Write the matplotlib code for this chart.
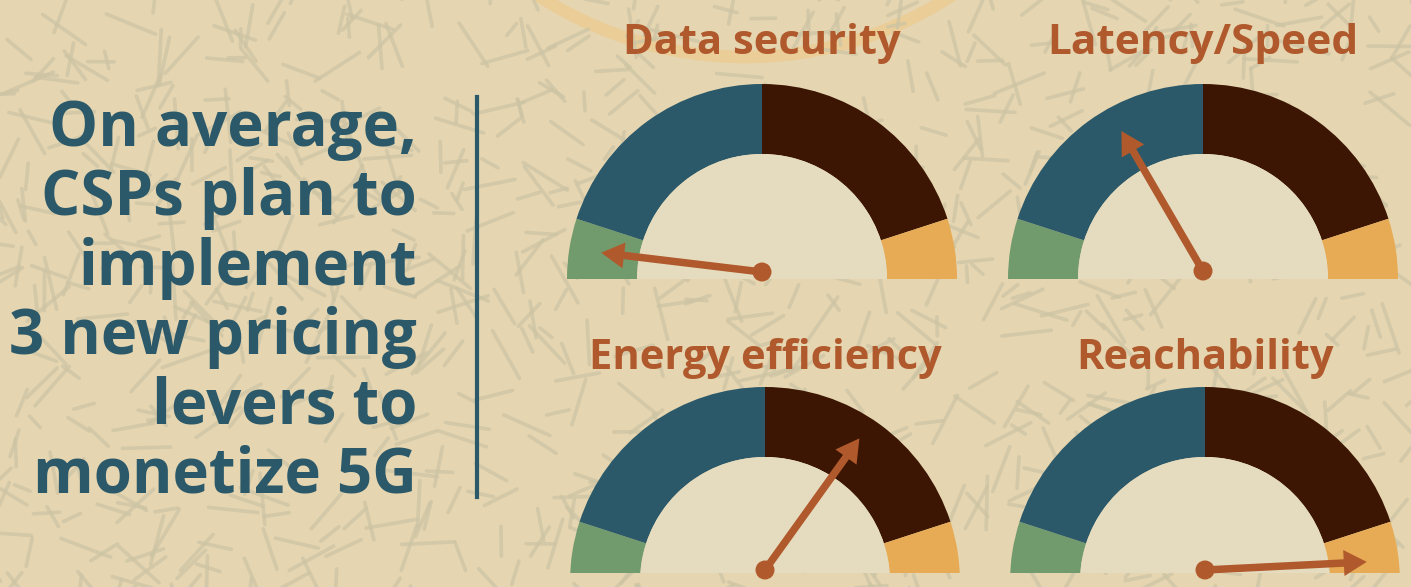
import numpy as np
import matplotlib
matplotlib.use("Agg")
import matplotlib.pyplot as plt
from matplotlib.patches import Wedge, Circle, Rectangle

# text
headline_lines = ["On average,", "CSPs plan to", "implement", "3 new pricing", "levers to", "monetize 5G"]
gauge_titles = ["Data security", "Latency/Speed", "Energy efficiency", "Reachability"]

# needle position on each dial, 0 = far left, 100 = far right
needle_values = [3.8, 33.2, 69.8, 98.4]

# dial bands (percent of the half circle, left to right)
band_edges = [0, 10, 50, 90, 100]
band_colors = ["#729b6d", "#2b5969", "#3c1603", "#e7ab55"]

bg = "#e5d5b0"
face = "#e5dcbf"
teal = "#2b5969"
rust = "#b0592d"

fig = plt.figure(figsize=(14.11, 5.87), dpi=100)
fig.patch.set_facecolor(bg)
ax = fig.add_axes([0, 0, 1, 1])
ax.set_xlim(0, 1411)
ax.set_ylim(587, 0)
ax.axis("off")

# faint orange ring at the top
ax.add_patch(Circle((745, -322), 379, fill=False, lw=9, ec="#ebcd98", zorder=1))

# scribble texture in the background
rng = np.random.default_rng(7)
n = 950
sx = rng.uniform(-30, 1440, n)
sy = rng.uniform(-30, 610, n)
ang = rng.uniform(0, np.pi, n)
ln = rng.uniform(15, 55, n)
for x, y, a, l in zip(sx, sy, ang, ln):
    ax.plot([x, x + l * np.cos(a)], [y, y + l * np.sin(a)], color="#cdc4a4",
            lw=2.6, alpha=0.75, solid_capstyle="round", zorder=2)

# headline on the left
for i, line in enumerate(headline_lines):
    ax.text(417, 146 + 69.3 * i, line, ha="right", va="baseline", fontsize=44.5,
            fontweight="bold", family=["Open Sans", "DejaVu Sans"], color=teal, zorder=5)
ax.plot([477, 477], [97, 497], color=teal, lw=3, zorder=5)

# dials
centers = [(762, 279), (1203, 279), (765, 582), (1205, 582)]
pivots = [(762, 272), (1203, 271), (765, 570), (1205, 570)]
title_y = [54, 54, 369, 369]
title_size = [30, 30.5, 30, 30]
cut_y = [280, 280, 573, 573]
r_out, r_in = 195, 125

for k in range(4):
    cx, cy = centers[k]
    clip = Rectangle((cx - 250, 0), 500, cut_y[k], transform=ax.transData)
    for j in range(4):
        a1 = 180 - band_edges[j] * 1.8
        a2 = 180 - band_edges[j + 1] * 1.8
        w = Wedge((cx, cy), r_out, -a1, -a2, width=r_out - r_in, fc=band_colors[j],
                  ec="none", zorder=3)
        ax.add_patch(w)
        w.set_clip_path(clip)
    f = Wedge((cx, cy), r_in, 180, 360, fc=face, ec="none", zorder=3)
    ax.add_patch(f)
    f.set_clip_path(clip)

    px, py = pivots[k]
    a = np.radians(180 - needle_values[k] * 1.8)
    L = 162
    ax.arrow(px, py, L * np.cos(a), -L * np.sin(a), width=7.5, head_width=26,
             head_length=23, length_includes_head=True, fc=rust, ec="none", zorder=4)
    ax.add_patch(Circle((px, py), 9.5, fc=rust, ec="none", zorder=4))

    ax.text(cx, title_y[k], gauge_titles[k], ha="center", va="baseline",
            fontsize=title_size[k], fontweight="bold", family=["Open Sans", "DejaVu Sans"],
            color=rust, zorder=5)

fig.savefig("out.png", dpi=100, facecolor=bg)
